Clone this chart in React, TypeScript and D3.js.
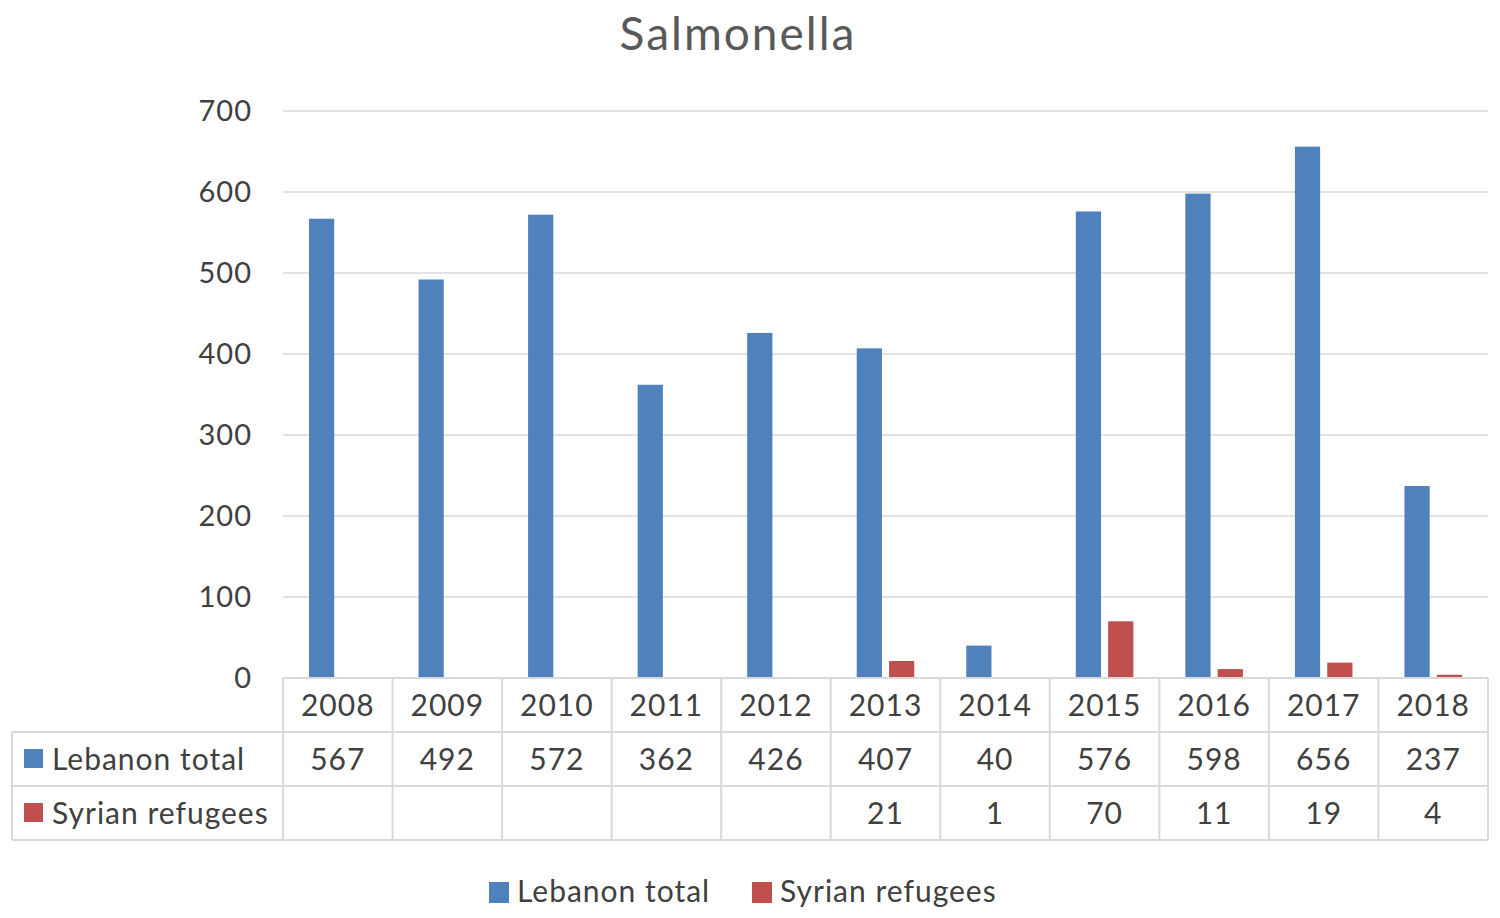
import { useEffect, useRef } from 'react'
import * as d3 from 'd3'

const years = ['2008', '2009', '2010', '2011', '2012', '2013', '2014', '2015', '2016', '2017', '2018']
const lebanonTotal: (number | null)[] = [567, 492, 572, 362, 426, 407, 40, 576, 598, 656, 237]
const syrianRefugees: (number | null)[] = [null, null, null, null, null, 21, 1, 70, 11, 19, 4]
const yTicks = [0, 100, 200, 300, 400, 500, 600, 700]

const seriesNames = ['Lebanon total', 'Syrian refugees']
const seriesColors = ['#4f81bd', '#c0504d']

const FONT = 'Lato, "Open Sans", sans-serif'
const TEXT = '#404040'
const GRID = '#d9d9d9'

export default function App() {
  const svgRef = useRef<SVGSVGElement>(null)

  useEffect(() => {
    const svg = d3.select(svgRef.current)
    svg.selectAll('*').remove()

    const left = 283
    const right = 1488
    const top = 111
    const bottom = 678
    const rowH = 54
    const tableLeft = 12

    const x = d3.scaleBand().domain(years).range([left, right]).padding(0)
    const y = d3.scaleLinear().domain([0, 700]).range([bottom, top])
    const inner = d3.scaleBand().domain(seriesNames).range([26, x.bandwidth() - 26]).paddingInner(0.22)

    // Title
    svg.append('text')
      .attr('x', 738).attr('y', 50)
      .attr('text-anchor', 'middle')
      .attr('font-family', FONT).attr('font-size', 46)
      .attr('letter-spacing', 2)
      .attr('fill', '#595959')
      .text('Salmonella')

    // Gridlines
    svg.append('g').selectAll('line')
      .data(yTicks.filter(t => t > 0))
      .enter().append('line')
      .attr('x1', left).attr('x2', right)
      .attr('y1', d => y(d)).attr('y2', d => y(d))
      .attr('stroke', GRID).attr('stroke-width', 1.5)

    // Y labels
    svg.append('g').selectAll('text')
      .data(yTicks)
      .enter().append('text')
      .attr('x', 252).attr('y', d => y(d) + 10)
      .attr('text-anchor', 'end')
      .attr('font-family', FONT).attr('font-size', 29)
      .attr('letter-spacing', 1)
      .attr('fill', TEXT)
      .text(d => d)

    // Bars
    const series = [lebanonTotal, syrianRefugees]
    series.forEach((vals, si) => {
      svg.append('g').selectAll('rect')
        .data(years.map((yr, i) => ({ yr, v: vals[i] })).filter(d => d.v !== null))
        .enter().append('rect')
        .attr('x', d => (x(d.yr) || 0) + (inner(seriesNames[si]) || 0))
        .attr('width', inner.bandwidth())
        .attr('y', d => y(d.v as number))
        .attr('height', d => bottom - y(d.v as number))
        .attr('fill', seriesColors[si])
    })

    // Data table
    const table = svg.append('g')
    const lineAttrs = (sel: any) => sel.attr('stroke', GRID).attr('stroke-width', 2)

    // horizontal lines
    lineAttrs(table.append('line').attr('x1', left).attr('x2', right).attr('y1', bottom).attr('y2', bottom))
    ;[1, 2, 3].forEach(r => {
      lineAttrs(table.append('line').attr('x1', tableLeft).attr('x2', right)
        .attr('y1', bottom + r * rowH).attr('y2', bottom + r * rowH))
    })
    // vertical lines
    lineAttrs(table.append('line').attr('x1', tableLeft).attr('x2', tableLeft)
      .attr('y1', bottom + rowH).attr('y2', bottom + 3 * rowH))
    const edges = years.map(yr => x(yr) || 0).concat([right])
    edges.forEach(ex => {
      lineAttrs(table.append('line').attr('x1', ex).attr('x2', ex)
        .attr('y1', bottom).attr('y2', bottom + 3 * rowH))
    })

    // header
    table.selectAll('.yr')
      .data(years)
      .enter().append('text')
      .attr('x', d => (x(d) || 0) + x.bandwidth() / 2)
      .attr('y', bottom + rowH / 2 + 11)
      .attr('text-anchor', 'middle')
      .attr('font-family', FONT).attr('font-size', 30)
      .attr('letter-spacing', 1)
      .attr('fill', TEXT)
      .text(d => d)

    series.forEach((vals, si) => {
      const rowY = bottom + (si + 1) * rowH
      table.append('rect')
        .attr('x', 24).attr('y', rowY + rowH / 2 - 10)
        .attr('width', 19).attr('height', 19)
        .attr('fill', seriesColors[si])
      table.append('text')
        .attr('x', 52).attr('y', rowY + rowH / 2 + 11)
        .attr('font-family', FONT).attr('font-size', 30)
        .attr('letter-spacing', 1)
        .attr('fill', TEXT)
        .text(seriesNames[si])
      table.append('g').selectAll('text')
        .data(years.map((yr, i) => ({ yr, v: vals[i] })).filter(d => d.v !== null))
        .enter().append('text')
        .attr('x', d => (x(d.yr) || 0) + x.bandwidth() / 2)
        .attr('y', rowY + rowH / 2 + 11)
        .attr('text-anchor', 'middle')
        .attr('font-family', FONT).attr('font-size', 30)
        .attr('letter-spacing', 1)
        .attr('fill', TEXT)
        .text(d => String(d.v))
    })

    // Legend
    const legendX = [489, 752]
    seriesNames.forEach((name, i) => {
      svg.append('rect')
        .attr('x', legendX[i]).attr('y', 882)
        .attr('width', 20).attr('height', 21)
        .attr('fill', seriesColors[i])
      svg.append('text')
        .attr('x', legendX[i] + 28).attr('y', 902)
        .attr('font-family', FONT).attr('font-size', 30)
        .attr('letter-spacing', 1)
        .attr('fill', TEXT)
        .text(name)
    })
  }, [])

  return (
    <svg ref={svgRef} width={1500} height={918}
      style={{ position: 'absolute', left: 0, top: 0, background: '#fff' }} />
  )
}
